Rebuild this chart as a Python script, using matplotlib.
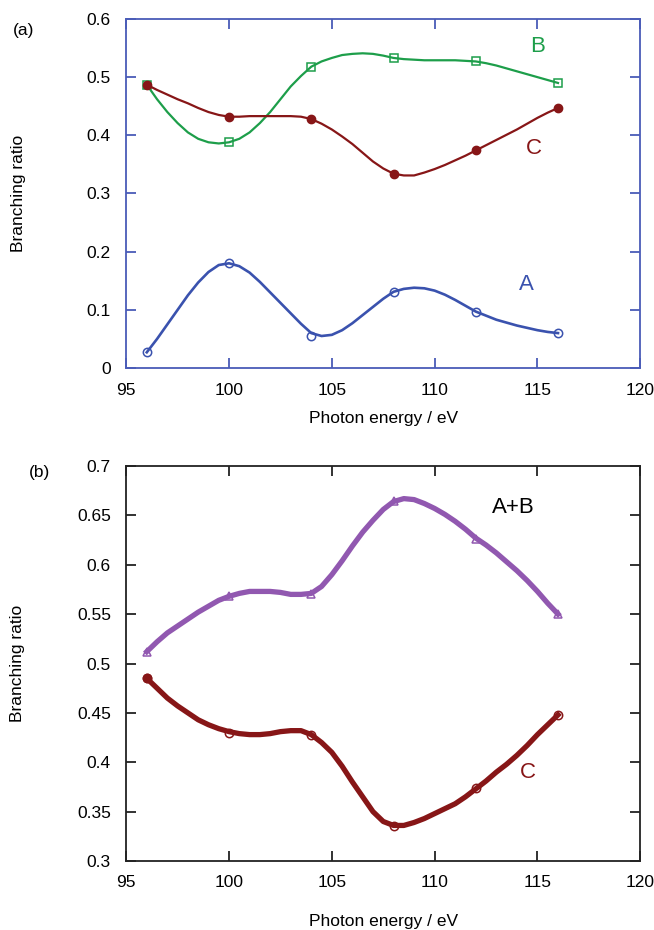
import numpy as np
import matplotlib.pyplot as plt

plt.rcParams['font.family'] = ['Liberation Sans', 'DejaVu Sans']

# measured points
energy = [96, 100, 104, 108, 112, 116]
a_pts = [0.027, 0.180, 0.055, 0.131, 0.097, 0.060]
b_pts = [0.487, 0.388, 0.518, 0.533, 0.527, 0.490]
c_pts = [0.487, 0.432, 0.428, 0.334, 0.374, 0.447]
ab_pts = [0.512, 0.568, 0.570, 0.665, 0.626, 0.550]
c2_pts = [0.485, 0.430, 0.428, 0.335, 0.374, 0.448]

# smooth guide curves, every 0.5 eV
curve_x = [96, 96.5, 97, 97.5, 98, 98.5, 99, 99.5, 100, 100.5, 101, 101.5, 102, 102.5,
           103, 103.5, 104, 104.5, 105, 105.5, 106, 106.5, 107, 107.5, 108, 108.5, 109,
           109.5, 110, 110.5, 111, 111.5, 112, 112.5, 113, 113.5, 114, 114.5, 115, 115.5, 116]
a_curve = [0.027, 0.050, 0.075, 0.100, 0.125, 0.147, 0.165, 0.177, 0.180, 0.175, 0.164,
           0.148, 0.130, 0.112, 0.094, 0.076, 0.060, 0.055, 0.057, 0.065, 0.077, 0.091,
           0.105, 0.119, 0.131, 0.136, 0.138, 0.137, 0.133, 0.126, 0.117, 0.107, 0.097,
           0.090, 0.083, 0.078, 0.073, 0.069, 0.065, 0.062, 0.060]
b_curve = [0.487, 0.462, 0.440, 0.421, 0.405, 0.394, 0.388, 0.386, 0.388, 0.394, 0.405,
           0.421, 0.440, 0.462, 0.484, 0.502, 0.518, 0.527, 0.533, 0.538, 0.540, 0.541,
           0.540, 0.537, 0.533, 0.531, 0.530, 0.529, 0.529, 0.529, 0.529, 0.528, 0.527,
           0.524, 0.520, 0.515, 0.510, 0.505, 0.500, 0.495, 0.490]
c_curve = [0.487, 0.478, 0.470, 0.462, 0.455, 0.447, 0.440, 0.435, 0.432, 0.432, 0.433,
           0.433, 0.433, 0.433, 0.433, 0.432, 0.428, 0.420, 0.410, 0.398, 0.385, 0.370,
           0.355, 0.343, 0.334, 0.331, 0.331, 0.336, 0.342, 0.349, 0.357, 0.365, 0.374,
           0.383, 0.392, 0.401, 0.410, 0.420, 0.430, 0.439, 0.447]
ab_curve = [0.512, 0.522, 0.531, 0.538, 0.545, 0.552, 0.558, 0.564, 0.568, 0.571, 0.573,
            0.573, 0.573, 0.572, 0.570, 0.570, 0.571, 0.578, 0.590, 0.604, 0.619, 0.633,
            0.645, 0.656, 0.664, 0.667, 0.666, 0.662, 0.657, 0.651, 0.644, 0.636, 0.627,
            0.620, 0.612, 0.603, 0.594, 0.584, 0.573, 0.561, 0.550]
c2_curve = [0.485, 0.475, 0.465, 0.457, 0.450, 0.443, 0.438, 0.434, 0.431, 0.429, 0.428,
            0.428, 0.429, 0.431, 0.432, 0.432, 0.428, 0.420, 0.410, 0.396, 0.380, 0.365,
            0.350, 0.340, 0.336, 0.336, 0.339, 0.343, 0.348, 0.353, 0.358, 0.365, 0.373,
            0.381, 0.390, 0.398, 0.407, 0.417, 0.428, 0.438, 0.448]

blue = '#3a52ae'
green = '#1d9e4a'
red = '#871617'
purple = '#9158b0'
axblue = '#4a5cb8'

fig = plt.figure(figsize=(6.54, 9.30), dpi=100)
ax1 = fig.add_axes([0.193, 0.6043, 0.786, 0.3753])
ax2 = fig.add_axes([0.193, 0.0742, 0.786, 0.4247])

# (a)
ax1.plot(curve_x, b_curve, color=green, lw=1.6)
ax1.plot(energy, b_pts, 's', ms=6, mfc='none', mec=green, mew=1.1)
ax1.plot(curve_x, c_curve, color=red, lw=1.6)
ax1.plot(energy, c_pts, 'o', ms=6, color=red)
ax1.plot(curve_x, a_curve, color=blue, lw=1.9)
ax1.plot(energy, a_pts, 'o', ms=6, mfc='none', mec=blue, mew=1.1)
ax1.set_xlim(95, 120)
ax1.set_ylim(0, 0.6)
ax1.set_xticks([95, 100, 105, 110, 115, 120])
ax1.set_yticks([0, 0.1, 0.2, 0.3, 0.4, 0.5, 0.6])
ax1.set_yticklabels(['0', '0.1', '0.2', '0.3', '0.4', '0.5', '0.6'])
for s in ax1.spines.values():
    s.set_color(axblue)
    s.set_linewidth(1.3)
ax1.tick_params(direction='in', length=7, width=1.3, color=axblue, labelsize=12.5,
                top=True, right=True)
ax1.tick_params(axis='x', pad=11)
ax1.tick_params(axis='y', pad=11)
ax1.text(114.99, 0.552, 'B', color=green, fontsize=16, ha='center', va='center')
ax1.text(114.84, 0.378, 'C', color=red, fontsize=16, ha='center', va='center')
ax1.text(114.46, 0.144, 'A', color=blue, fontsize=16, ha='center', va='center')
ax1.set_xlabel('Photon energy / eV', fontsize=12.5, va='center')
ax1.set_ylabel('Branching ratio', fontsize=12.5, va='center')
ax1.xaxis.set_label_coords(0.5, -0.146)
ax1.yaxis.set_label_coords(-0.210, 0.5)
fig.text(24 / 654, 1 - 31 / 930, '(a)', fontsize=12.5, ha='center', va='center')

# (b)
ax2.plot(curve_x, ab_curve, color=purple, lw=3.8)
ax2.plot(energy, ab_pts, '^', ms=6, mfc='none', mec=purple, mew=1.1)
ax2.plot(curve_x, c2_curve, color=red, lw=3.8)
ax2.plot(energy, c2_pts, 'o', ms=6, mfc='none', mec=red, mew=1.1)
ax2.plot(energy[:1], c2_pts[:1], 'o', ms=6, color=red)
ax2.set_xlim(95, 120)
ax2.set_ylim(0.3, 0.7)
ax2.set_xticks([95, 100, 105, 110, 115, 120])
ax2.set_yticks(np.arange(0.3, 0.701, 0.05))
ax2.set_yticklabels(['0.3', '0.35', '0.4', '0.45', '0.5', '0.55', '0.6', '0.65', '0.7'])
for s in ax2.spines.values():
    s.set_color('#222222')
    s.set_linewidth(1.3)
ax2.tick_params(direction='in', length=7, width=1.3, color='#222222', labelsize=12.5,
                top=True, right=True)
ax2.tick_params(axis='x', pad=10)
ax2.tick_params(axis='y', pad=11)
ax2.text(113.82, 0.658, 'A+B', color='black', fontsize=16, ha='center', va='center')
ax2.text(114.55, 0.390, 'C', color=red, fontsize=16, ha='center', va='center')
ax2.set_xlabel('Photon energy / eV', fontsize=12.5, va='center')
ax2.set_ylabel('Branching ratio', fontsize=12.5, va='center')
ax2.xaxis.set_label_coords(0.5, -0.154)
ax2.yaxis.set_label_coords(-0.212, 0.5)
fig.text(39 / 654, 1 - 472 / 930, '(b)', fontsize=12.5, ha='center', va='center')

fig.savefig('out.png', dpi=100)
